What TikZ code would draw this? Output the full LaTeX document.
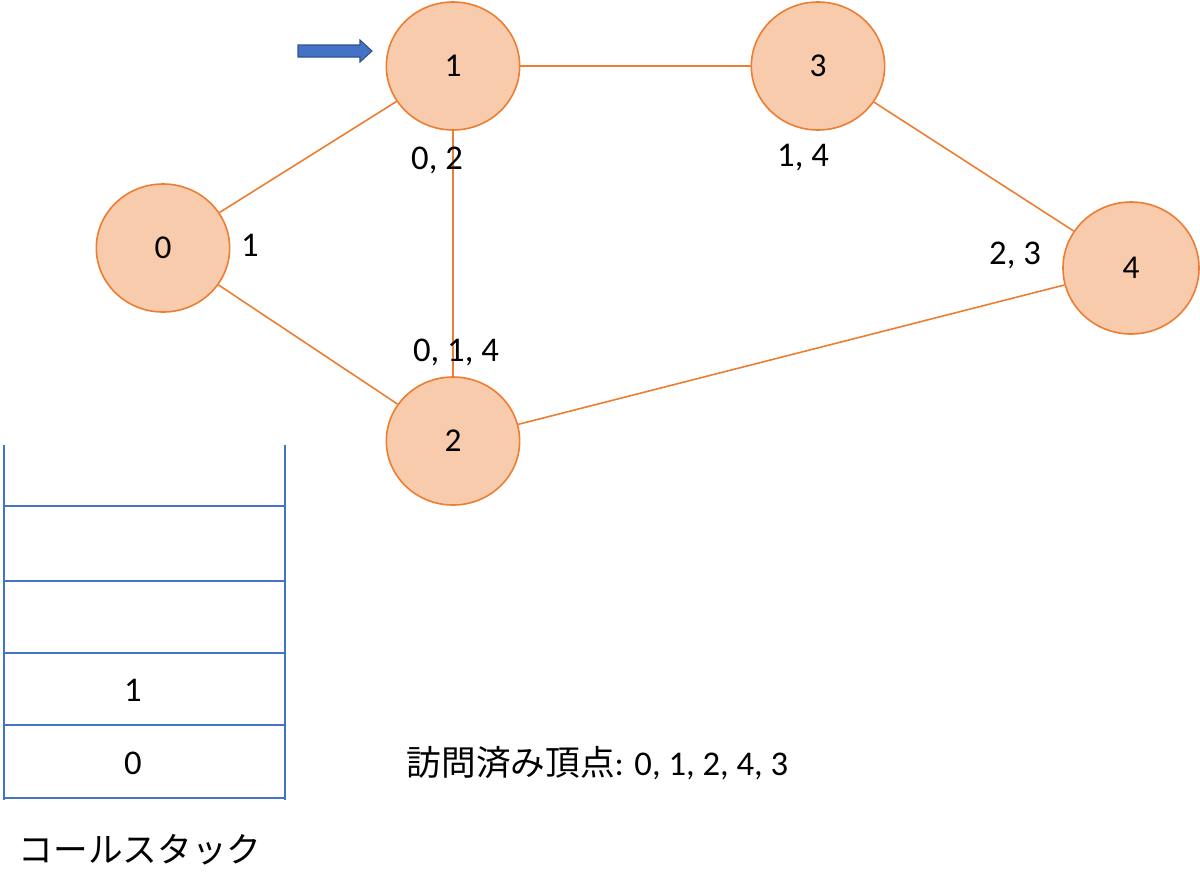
\documentclass[tikz,border=0pt]{standalone}
\usepackage{fontspec}
\setmainfont{Carlito}
\newfontfamily\cjk{Noto Sans CJK JP}
\usetikzlibrary{shapes.geometric}
\definecolor{nfill}{HTML}{F8CBAD}
\definecolor{nline}{HTML}{ED7D31}
\definecolor{sblue}{HTML}{4472C4}
\definecolor{dblue}{HTML}{2F528F}
\begin{document}
\begin{tikzpicture}[x=0.75pt,y=-0.75pt,
  v/.style={ellipse,draw=nline,fill=nfill,line width=1.2pt,minimum width=100pt,minimum height=96pt,inner sep=0pt,font=\fontsize{25}{28}\selectfont},
  e/.style={draw=nline,line width=1.2pt},
  lab/.style={font=\fontsize{26}{30}\selectfont},
  st/.style={draw=sblue,line width=1.5pt}]
\useasboundingbox (0,0) rectangle (1200,893);
\node[v] (n0) at (163,248) {0};
\node[v] (n1) at (453,66) {1};
\node[v] (n3) at (818,66) {3};
\node[v,minimum width=102pt,minimum height=99pt] (n4) at (1131,268) {4};
\node[v] (n2) at (453,441) {2};
\draw[e] (n0) -- (n1);
\draw[e] (n0) -- (n2);
\draw[e] (n1) -- (n3);
\draw[e] (n1) -- (n2);
\draw[e] (n3) -- (n4);
\draw[e] (n2) -- (n4);
\node[lab] (l0) at (250,245) {1};
\node[lab] (l1) at (437,160) {0, 2};
\node[lab] (l3) at (803,158) {1, 4};
\node[lab] (l4) at (1015,255) {2, 3};
\node[lab] (l2) at (456,352) {0, 1, 4};
\coordinate (arr) at (298,51);
\filldraw[fill=sblue,draw=dblue,line width=0.8pt] (arr) ++(0,-6) -- ++(62,0) -- ++(0,-5) -- ++(12,11) -- ++(-12,11) -- ++(0,-5) -- ++(-62,0) -- cycle;
\draw[st] (4,445) -- (4,800);
\draw[st] (285,445) -- (285,800);
\foreach \y in {506,581,653,725,798} \draw[st] (4,\y) -- (285,\y);
\node[lab] (s1) at (133,690) {1};
\node[lab] (s0) at (133,763) {0};
\node[lab] (cs) at (140,850) {\cjk コールスタック};
\node[lab,anchor=west] (vis) at (402,763) {{\cjk 訪問済み頂点}: 0, 1, 2, 4, 3};
\end{tikzpicture}
\end{document}
